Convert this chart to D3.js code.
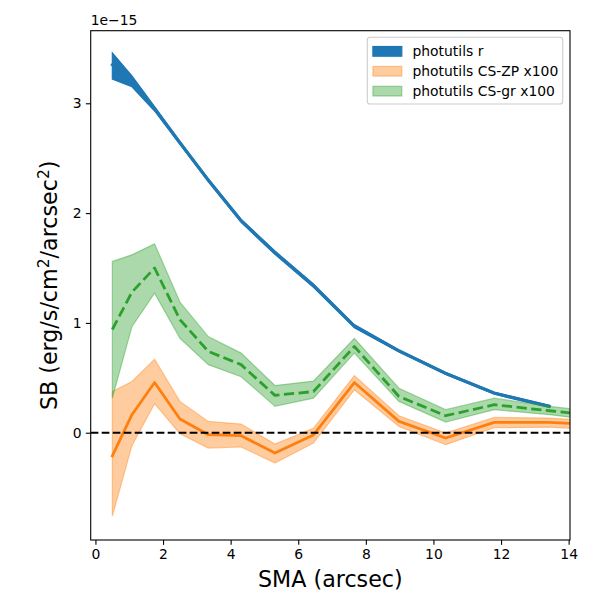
<!DOCTYPE html>
<html>
<head>
<meta charset="utf-8">
<script src="https://cdn.jsdelivr.net/npm/d3@7"></script>
<style>
  html, body { margin: 0; padding: 0; background: #fff; }
  svg { display: block; font-family: "DejaVu Sans", sans-serif; }
</style>
</head>
<body>
<svg id="chart" width="600" height="600"></svg>
<script>
// ---- Data (SB values in units of 1e-15 erg/s/cm^2/arcsec^2) ----
const smaR = [0.5, 1.08, 1.75, 2.5, 3.34, 4.31, 5.31, 6.45, 7.66, 8.98, 10.36, 11.8, 13.43];
const sbR    = [3.35, 3.20, 2.95, 2.64, 2.30, 1.93, 1.64, 1.34, 0.97, 0.745, 0.54, 0.36, 0.24];
const sbRlo  = [3.22, 3.15, 2.93, 2.625, 2.285, 1.915, 1.625, 1.325, 0.955, 0.735, 0.53, 0.35, 0.23];
const sbRhi  = [3.46, 3.25, 2.97, 2.655, 2.315, 1.945, 1.655, 1.355, 0.985, 0.755, 0.55, 0.37, 0.25];

const smaCS = [0.5, 1.08, 1.75, 2.5, 3.34, 4.31, 5.31, 6.45, 7.66, 8.98, 10.36, 11.8, 13.43, 15.2];
const zp    = [-0.21, 0.164, 0.457, 0.125, -0.018, -0.027, -0.185, -0.02, 0.457, 0.103, -0.048, 0.094, 0.094, 0.07];
const zpLo  = [-0.76, -0.118, 0.264, -0.009, -0.14, -0.13, -0.276, -0.094, 0.39, 0.057, -0.109, 0.045, 0.05, 0.02];
const zpHi  = [0.375, 0.466, 0.67, 0.285, 0.103, 0.079, -0.103, 0.04, 0.52, 0.155, -0.003, 0.139, 0.133, 0.10];

const gr    = [0.94, 1.28, 1.50, 1.03, 0.74, 0.62, 0.34, 0.375, 0.785, 0.33, 0.155, 0.255, 0.20, 0.145];
const grLo  = [0.315, 0.966, 1.27, 0.86, 0.62, 0.51, 0.24, 0.315, 0.725, 0.285, 0.097, 0.21, 0.164, 0.10];
const grHi  = [1.56, 1.62, 1.72, 1.19, 0.875, 0.725, 0.43, 0.47, 0.86, 0.405, 0.21, 0.315, 0.24, 0.18];

const xTicks = [0, 2, 4, 6, 8, 10, 12, 14];
const yTicks = [0, 1, 2, 3];
const legendLabels = ["photutils r", "photutils CS-ZP x100", "photutils CS-gr x100"];
const offsetText = "1e\u221215";
const xLabel = "SMA (arcsec)";

// ---- Layout ----
const svg = d3.select("#chart");
const L = 90.7, R = 570, T = 30.7, B = 540;
const x = d3.scaleLinear().domain([-0.14, 14.04]).range([L, R]);
const y = d3.scaleLinear().domain([-0.977, 3.661]).range([B, T]);

const blue = "#1f77b4", orange = "#ff7f0e", green = "#2ca02c";

svg.append("defs").append("clipPath").attr("id", "clip")
  .append("rect").attr("x", L).attr("y", T).attr("width", R - L).attr("height", B - T);

const plot = svg.append("g").attr("clip-path", "url(#clip)");

function band(xs, lo, hi) {
  return d3.area().x((d, i) => x(xs[i])).y0((d, i) => y(lo[i])).y1((d, i) => y(hi[i]))(xs);
}
function line(xs, v) {
  return d3.line().x((d, i) => x(xs[i])).y((d, i) => y(v[i]))(xs);
}

// photutils r
plot.append("path").attr("d", band(smaR, sbRlo, sbRhi))
  .attr("fill", blue).attr("stroke", blue).attr("stroke-width", 1.2);
plot.append("path").attr("d", line(smaR, sbR))
  .attr("fill", "none").attr("stroke", blue).attr("stroke-width", 2.9)
  .attr("stroke-linecap", "square").attr("stroke-linejoin", "round");

// CS-ZP
plot.append("path").attr("d", band(smaCS, zpLo, zpHi))
  .attr("fill", orange).attr("fill-opacity", 0.4)
  .attr("stroke", orange).attr("stroke-opacity", 0.4).attr("stroke-width", 1.2);
plot.append("path").attr("d", line(smaCS, zp))
  .attr("fill", "none").attr("stroke", orange).attr("stroke-width", 2.78)
  .attr("stroke-linecap", "square").attr("stroke-linejoin", "round");

// CS-gr
plot.append("path").attr("d", band(smaCS, grLo, grHi))
  .attr("fill", green).attr("fill-opacity", 0.4)
  .attr("stroke", green).attr("stroke-opacity", 0.4).attr("stroke-width", 1.2);
plot.append("path").attr("d", line(smaCS, gr))
  .attr("fill", "none").attr("stroke", green).attr("stroke-width", 2.78)
  .attr("stroke-dasharray", "10.3,4.45").attr("stroke-linejoin", "round");

// zero line
plot.append("line").attr("x1", L).attr("x2", R).attr("y1", y(0)).attr("y2", y(0))
  .attr("stroke", "#000").attr("stroke-width", 2.08).attr("stroke-dasharray", "7.7,3.3");

// ---- Axes ----
const xAxis = d3.axisBottom(x).tickValues(xTicks).tickSize(4.86).tickPadding(4.2).tickFormat(d3.format("d"));
const yAxis = d3.axisLeft(y).tickValues(yTicks).tickSize(4.86).tickPadding(4.2).tickFormat(d3.format("d"));

const gx = svg.append("g").attr("transform", `translate(0,${B})`).call(xAxis);
const gy = svg.append("g").attr("transform", `translate(${L},0)`).call(yAxis);
[gx, gy].forEach(g => {
  g.select(".domain").remove();
  g.selectAll(".tick line").attr("stroke", "#000").attr("stroke-width", 1.1);
  g.selectAll(".tick text").attr("font-size", 13.9).attr("fill", "#000")
    .attr("font-family", "DejaVu Sans, sans-serif");
});

// frame
svg.append("rect").attr("x", L).attr("y", T).attr("width", R - L).attr("height", B - T)
  .attr("fill", "none").attr("stroke", "#000").attr("stroke-width", 1.1);

// offset text
svg.append("text").attr("x", L).attr("y", 25).attr("font-size", 13.9).text(offsetText);

// axis labels
svg.append("text").attr("x", (L + R) / 2).attr("y", 587).attr("text-anchor", "middle")
  .attr("font-size", 22.2).text(xLabel);

const yl = svg.append("text").attr("transform", `translate(56.5,${(T + B) / 2}) rotate(-90)`)
  .attr("text-anchor", "middle").attr("font-size", 22.2);
yl.append("tspan").text("SB (erg/s/cm");
yl.append("tspan").attr("dy", -8).attr("font-size", 15.5).text("2");
yl.append("tspan").attr("dy", 8).text("/arcsec");
yl.append("tspan").attr("dy", -8).attr("font-size", 15.5).text("2");
yl.append("tspan").attr("dy", 8).text(")");

// ---- Legend ----
const lg = svg.append("g");
lg.append("rect").attr("x", 367.3).attr("y", 37.3).attr("width", 195.4).attr("height", 66.7)
  .attr("rx", 2.8).attr("fill", "#fff").attr("fill-opacity", 0.8)
  .attr("stroke", "#cccccc").attr("stroke-width", 1.1);
const legStyles = [
  {fill: blue, op: 1},
  {fill: orange, op: 0.4},
  {fill: green, op: 0.4}
];
legendLabels.forEach((lab, i) => {
  const cy = 51 + i * 19.9;
  lg.append("rect").attr("x", 372.9).attr("y", cy - 4.5).attr("width", 28.9).attr("height", 9.7)
    .attr("fill", legStyles[i].fill).attr("fill-opacity", legStyles[i].op)
    .attr("stroke", legStyles[i].fill).attr("stroke-opacity", legStyles[i].op).attr("stroke-width", 1.2);
  lg.append("text").attr("x", 412.5).attr("y", cy + 5).attr("font-size", 13.9).text(lab);
});
</script>
</body>
</html>
